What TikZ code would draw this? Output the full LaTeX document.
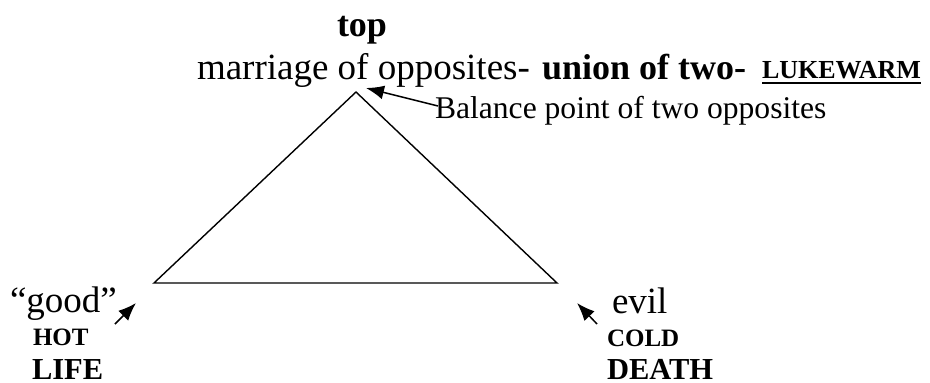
\documentclass[tikz,border=0pt]{standalone}
\usepackage{fontspec}
\setmainfont{Liberation Serif}
\usetikzlibrary{arrows.meta}
\begin{document}
\begin{tikzpicture}[x=1pt,y=-1pt,
  lbl/.style={inner sep=0pt,outer sep=0pt,anchor=base west},
  big/.style={lbl,font=\fontsize{37}{40}\selectfont},
  mid/.style={lbl,font=\fontsize{31.6}{34}\selectfont},
  bigb/.style={lbl,font=\fontsize{36}{40}\selectfont\bfseries},
  smallb/.style={lbl,font=\fontsize{25}{28}\selectfont\bfseries},
  medb/.style={lbl,font=\fontsize{30.5}{33}\selectfont\bfseries},
  tri/.style={line width=1.4pt,line join=miter},
  pointer/.style={line width=1.5pt,-{Latex[length=18pt,width=14pt]}}]
\useasboundingbox (0,0) rectangle (930,383);
% triangle
\coordinate (apex) at (356,92);
\coordinate (bl) at (154,283);
\coordinate (br) at (557,283);
\draw[tri] (bl) -- (apex) -- (br) -- cycle;
% top texts
\node[bigb] (top) at (337,36) {top};
\node[big] (marriage) at (197,79) {marriage of opposites-};
\node[bigb] (union) at (542,79) {union of two-};
\node[lbl,font=\fontsize{26}{28}\selectfont\bfseries] (luke) at (762,78) {LUKEWARM};
\draw[line width=2pt] ([yshift=-4.5pt]luke.base west) -- ([yshift=-4.5pt]luke.base east);
\node[mid] (balance) at (435,118) {Balance point of two opposites};
% bottom-left texts
\node[big] (good) at (10,312) {“good”};
\node[smallb] (hot) at (33,345) {HOT};
\node[medb] (life) at (32,379) {LIFE};
% bottom-right texts
\node[big] (evil) at (612,313) {evil};
\node[smallb] (cold) at (607,346) {COLD};
\node[medb] (death) at (607,379) {DEATH};
% arrows
\coordinate (t1) at (438,106);
\coordinate (h1) at (366,88);
\draw[pointer] (t1) -- (h1);
\coordinate (t2) at (115,324);
\coordinate (h2) at (136,303);
\draw[pointer] (t2) -- (h2);
\coordinate (t3) at (597,324);
\coordinate (h3) at (577,303);
\draw[pointer] (t3) -- (h3);
\end{tikzpicture}
\end{document}
